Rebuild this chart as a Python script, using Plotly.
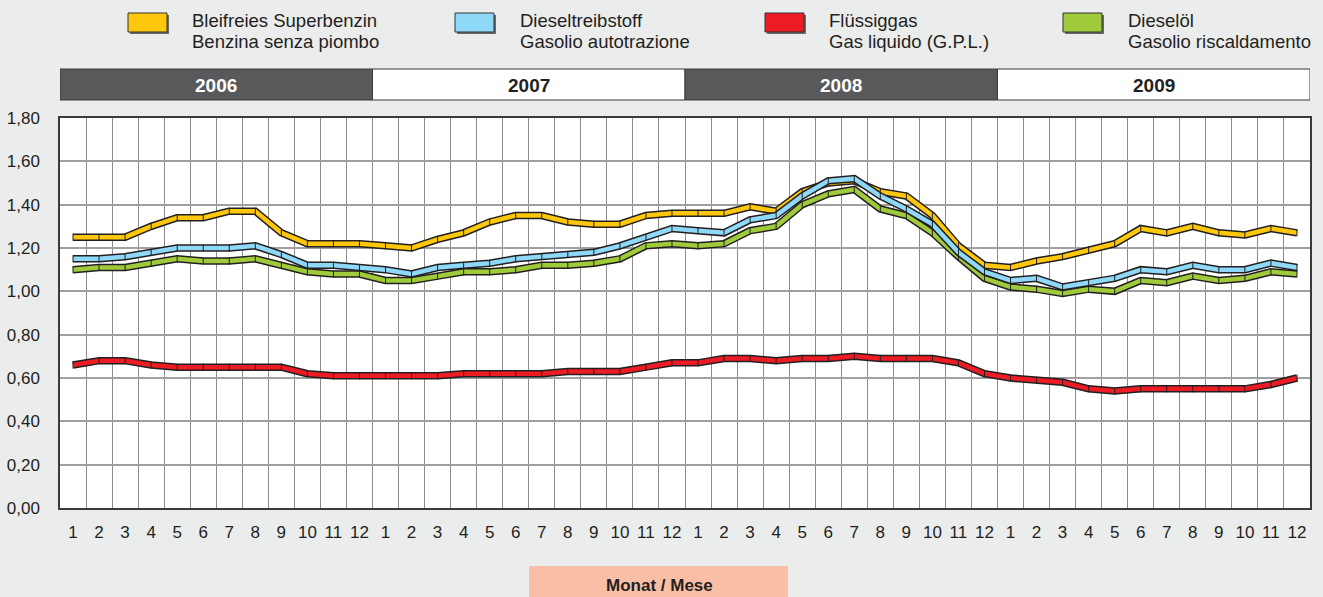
import plotly.graph_objects as go

years = ["2006", "2007", "2008", "2009"]
months = list(range(1, 13))
month_labels = [str(m) for y in years for m in months]

names_de = ["Bleifreies Superbenzin", "Dieseltreibstoff", "Flüssiggas", "Dieselöl"]
names_it = ["Benzina senza piombo", "Gasolio autotrazione", "Gas liquido (G.P.L.)", "Gasolio riscaldamento"]
colors = ["#fdc70c", "#8ed8f8", "#ed1c24", "#9fcb3b"]

benzin = [1.25, 1.25, 1.25, 1.30, 1.34, 1.34, 1.37, 1.37, 1.27, 1.22, 1.22, 1.22,
          1.21, 1.20, 1.24, 1.27, 1.32, 1.35, 1.35, 1.32, 1.31, 1.31, 1.35, 1.36,
          1.36, 1.36, 1.39, 1.37, 1.46, 1.50, 1.51, 1.46, 1.44, 1.35, 1.21, 1.12,
          1.11, 1.14, 1.16, 1.19, 1.22, 1.29, 1.27, 1.30, 1.27, 1.26, 1.29, 1.27]
diesel = [1.15, 1.15, 1.16, 1.18, 1.20, 1.20, 1.20, 1.21, 1.17, 1.12, 1.12, 1.11,
          1.10, 1.08, 1.11, 1.12, 1.13, 1.15, 1.16, 1.17, 1.18, 1.21, 1.25, 1.29,
          1.28, 1.27, 1.33, 1.35, 1.44, 1.51, 1.52, 1.44, 1.38, 1.31, 1.18, 1.09,
          1.05, 1.06, 1.02, 1.04, 1.06, 1.10, 1.09, 1.12, 1.10, 1.10, 1.13, 1.11]
gpl = [0.66, 0.68, 0.68, 0.66, 0.65, 0.65, 0.65, 0.65, 0.65, 0.62, 0.61, 0.61,
       0.61, 0.61, 0.61, 0.62, 0.62, 0.62, 0.62, 0.63, 0.63, 0.63, 0.65, 0.67,
       0.67, 0.69, 0.69, 0.68, 0.69, 0.69, 0.70, 0.69, 0.69, 0.69, 0.67, 0.62,
       0.60, 0.59, 0.58, 0.55, 0.54, 0.55, 0.55, 0.55, 0.55, 0.55, 0.57, 0.60]
heizoel = [1.10, 1.11, 1.11, 1.13, 1.15, 1.14, 1.14, 1.15, 1.12, 1.09, 1.08, 1.08,
           1.05, 1.05, 1.07, 1.09, 1.09, 1.10, 1.12, 1.12, 1.13, 1.15, 1.21, 1.22,
           1.21, 1.22, 1.28, 1.30, 1.40, 1.45, 1.47, 1.38, 1.35, 1.27, 1.16, 1.06,
           1.02, 1.01, 0.99, 1.01, 1.00, 1.05, 1.04, 1.07, 1.05, 1.06, 1.09, 1.08]

series = [benzin, diesel, gpl, heizoel]
y_ticks = [0.0, 0.2, 0.4, 0.6, 0.8, 1.0, 1.2, 1.4, 1.6, 1.8]

FONT = "Liberation Sans, Arial, sans-serif"
W, H = 1323, 597
ML, MR, MT, MB = 60, 13, 118, 89
PW, PH = W - ML - MR, H - MT - MB


def px_x(x):
    return (x - ML) / PW


def px_y(y):
    return (H - MB - y) / PH


x = list(range(1, len(month_labels) + 1))
fig = go.Figure()

draw_order = [2, 3, 0, 1]
for i in draw_order:
    fig.add_trace(go.Scatter(x=x, y=series[i], mode="lines",
                             line=dict(color="#231f20", width=7.5),
                             hoverinfo="skip", showlegend=False))
    fig.add_trace(go.Scatter(x=x, y=series[i], mode="lines+markers",
                             line=dict(color=colors[i], width=4.5),
                             marker=dict(symbol="line-ns", size=5,
                                         line=dict(color="#231f20", width=1)),
                             name=names_de[i], showlegend=False))

shapes = []
annotations = []

# year band
nm = len(months)
for k, yr in enumerate(years):
    dark = (k % 2 == 0)
    shapes.append(dict(type="rect", xref="x", yref="paper",
                       x0=k * nm + 0.5, x1=(k + 1) * nm + 0.5,
                       y0=px_y(100), y1=px_y(69),
                       fillcolor="#58595b" if dark else "#ffffff",
                       line=dict(color="#3a3a3a", width=1), layer="above"))
    annotations.append(dict(xref="x", yref="paper", x=k * nm + (nm + 1) / 2,
                            y=px_y(85), text="<b>%s</b>" % yr, showarrow=False,
                            font=dict(family=FONT, size=19,
                                      color="#ffffff" if dark else "#231f20"),
                            xanchor="center", yanchor="middle"))

# legend
box_x = [128, 455, 765, 1063]
text_x = [190, 518, 827, 1126]
for i in range(4):
    shapes.append(dict(type="rect", xref="paper", yref="paper",
                       x0=px_x(box_x[i] + 2), x1=px_x(box_x[i] + 41),
                       y0=px_y(34), y1=px_y(15), fillcolor="#6a6a6a",
                       line=dict(width=0), layer="above"))
    shapes.append(dict(type="rect", xref="paper", yref="paper",
                       x0=px_x(box_x[i]), x1=px_x(box_x[i] + 39),
                       y0=px_y(32), y1=px_y(13), fillcolor=colors[i],
                       line=dict(color="#333333", width=1), layer="above"))
    for txt, yc in ((names_de[i], 20.5), (names_it[i], 41.5)):
        annotations.append(dict(xref="paper", yref="paper", x=px_x(text_x[i]),
                                y=px_y(yc), text=txt,
                                showarrow=False, align="left", xanchor="left",
                                yanchor="middle",
                                font=dict(family=FONT, size=18.5, color="#231f20")))

# x-axis title box
shapes.append(dict(type="rect", xref="paper", yref="paper",
                   x0=px_x(529), x1=px_x(788), y0=px_y(605), y1=px_y(566),
                   fillcolor="#f9bfa6", line=dict(width=0), layer="above"))
annotations.append(dict(xref="paper", yref="paper", x=px_x(659), y=px_y(585),
                        text="<b>Monat / Mese</b>", showarrow=False,
                        xanchor="center", yanchor="middle",
                        font=dict(family=FONT, size=17, color="#231f20")))

fig.update_layout(
    width=W, height=H,
    margin=dict(l=ML, r=MR, t=MT, b=MB, pad=0, autoexpand=False),
    paper_bgcolor="#ebecec", plot_bgcolor="#ffffff",
    font=dict(family=FONT, size=17, color="#231f20"),
    shapes=shapes, annotations=annotations,
    showlegend=False,
    xaxis=dict(range=[0.5, len(x) + 0.5], tickvals=x, ticktext=month_labels,
               showgrid=False, zeroline=False, ticks="", automargin=False,
               ticklabelstandoff=8,
               tickfont=dict(family=FONT, size=17, color="#231f20"),
               showline=True, linecolor="#3a3a3a", linewidth=1.5, mirror=True,
               minor=dict(tickvals=[v + 0.5 for v in range(0, len(x) + 1)],
                          showgrid=True, gridcolor="#8c8c8c", gridwidth=1)),
    yaxis=dict(range=[0, 1.8], tickvals=y_ticks,
               ticktext=[("%.2f" % v).replace(".", ",") for v in y_ticks],
               showgrid=True, gridcolor="#a0a0a0", gridwidth=1.5,
               zeroline=False, ticks="", ticklabelstandoff=15, automargin=False,
               tickfont=dict(family=FONT, size=17, color="#231f20"),
               showline=True, linecolor="#3a3a3a", linewidth=1.5, mirror=True),
)

fig.write_html("out.html", config={"displayModeBar": False},
               post_script="document.body.style.margin='0';document.body.style.padding='0';")
